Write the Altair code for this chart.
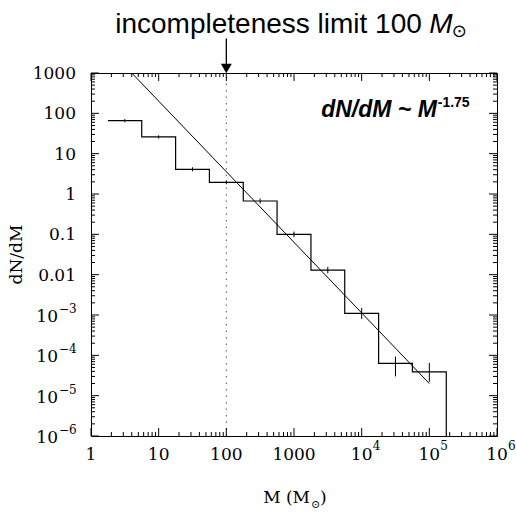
import altair as alt
import pandas as pd

# ---------------- data ----------------
bin_edges = [1.78, 5.62, 17.8, 56.2, 178, 562, 1780, 5620, 17800, 56200, 178000]
bin_levels = [66, 26, 4.1, 1.95, 0.67, 0.10, 0.013, 0.0011, 6.3e-5, 3.9e-5]
floor_level = 1e-6
bin_centers = [3.16, 10, 31.6, 100, 316, 1000, 3160, 10000, 31600, 100000]
err_low = [60.0, 23.7, 3.65, 1.74, 0.58, 0.085, 0.0108, 0.0008, 3.0e-5, 2.2e-5]
err_high = [72.4, 28.5, 4.6, 2.19, 0.77, 0.117, 0.0156, 0.0015, 9.3e-5, 6.5e-5]

fit_x = [4.0, 1.0e5]
fit_y = [1000, 2.0e-5]

limit_x = [100]
limit_y = [1e-6, 1000]
arrow_y = [7200, 1300]

x_plain_vals = [1, 10, 100, 1000]
x_plain_text = ["1", "10", "100", "1000"]
x_exp_vals = [1e4, 1e5, 1e6]
x_exp_text = ["4", "5", "6"]
y_plain_vals = [1000, 100, 10, 1, 0.1, 0.01]
y_plain_text = ["1000", "100", "10", "1", "0.1", "0.01"]
y_exp_vals = [1e-3, 1e-4, 1e-5, 1e-6]
y_exp_text = ["\u22123", "\u22124", "\u22125", "\u22126"]

x_major = [1, 10, 100, 1000, 1e4, 1e5, 1e6]
x_minor = [k * 10 ** d for d in range(0, 6) for k in range(2, 10)]
y_major = [10.0 ** d for d in range(-6, 4)]
y_minor = [k * 10.0 ** d for d in range(-6, 3) for k in range(2, 10)]

top_text = ["incompleteness limit 100"]
law_text = ["dN/dM ~ M"]
law_exp = ["-1.75"]

# ---------------- chart ----------------
W, H = 406, 363
xs = alt.Scale(type="log", domain=[1, 1e6], nice=False)
ys = alt.Scale(type="log", domain=[1e-6, 1000], nice=False)
SERIF = "DejaVu Serif"
SANS = "Liberation Sans"

hist = alt.Chart(pd.DataFrame({"m": bin_edges, "n": bin_levels + [floor_level]})).mark_line(
    interpolate="step-after", color="black", strokeWidth=1.2
).encode(x=alt.X("m:Q", scale=xs, axis=None), y=alt.Y("n:Q", scale=ys, axis=None))

errs = alt.Chart(pd.DataFrame({"m": bin_centers, "lo": err_low, "hi": err_high})).mark_rule(
    color="black", strokeWidth=1
).encode(x=alt.X("m:Q", scale=xs, axis=None), y=alt.Y("lo:Q", scale=ys, axis=None), y2="hi:Q")

fit = alt.Chart(pd.DataFrame({"m": fit_x, "n": fit_y})).mark_line(color="black", strokeWidth=1).encode(
    x=alt.X("m:Q", scale=xs, axis=None), y=alt.Y("n:Q", scale=ys, axis=None))

limit = alt.Chart(pd.DataFrame({"m": limit_x, "lo": [limit_y[0]], "hi": [limit_y[1]]})).mark_rule(
    color="#555555", strokeWidth=1, strokeDash=[1.5, 5]
).encode(x=alt.X("m:Q", scale=xs, axis=None), y=alt.Y("lo:Q", scale=ys, axis=None), y2="hi:Q")

arrow_line = alt.Chart(pd.DataFrame({"m": limit_x, "lo": [arrow_y[0]], "hi": [arrow_y[1]]})).mark_rule(
    color="black", strokeWidth=1.3
).encode(x=alt.X("m:Q", scale=xs, axis=None), y=alt.Y("lo:Q", scale=ys, axis=None), y2="hi:Q")

arrow_head = alt.Chart(pd.DataFrame({"m": limit_x, "n": [arrow_y[1]]})).mark_point(
    shape="triangle-down", filled=True, color="black", size=120, opacity=1
).encode(x=alt.X("m:Q", scale=xs, axis=None), y=alt.Y("n:Q", scale=ys, axis=None))


def tick_layer(vals, length, side):
    base = alt.Chart(pd.DataFrame({"v": vals})).mark_rule(color="black", strokeWidth=1)
    if side == "bottom":
        return base.encode(x=alt.X("v:Q", scale=xs, axis=None), y=alt.value(H), y2=alt.value(H - length))
    if side == "top":
        return base.encode(x=alt.X("v:Q", scale=xs, axis=None), y=alt.value(0), y2=alt.value(length))
    if side == "left":
        return base.encode(y=alt.Y("v:Q", scale=ys, axis=None), x=alt.value(0), x2=alt.value(length))
    return base.encode(y=alt.Y("v:Q", scale=ys, axis=None), x=alt.value(W), x2=alt.value(W - length))


ticks = []
for side in ["bottom", "top"]:
    ticks.append(tick_layer(x_major, 8, side))
    ticks.append(tick_layer(x_minor, 4, side))
for side in ["left", "right"]:
    ticks.append(tick_layer(y_major, 8, side))
    ticks.append(tick_layer(y_minor, 4, side))

# axis labels
xl_plain = alt.Chart(pd.DataFrame({"v": x_plain_vals, "t": x_plain_text})).mark_text(
    font=SERIF, fontSize=17, align="center", baseline="alphabetic", color="black"
).encode(x=alt.X("v:Q", scale=xs, axis=None), y=alt.value(H + 24), text="t:N")
xl_base = alt.Chart(pd.DataFrame({"v": x_exp_vals, "t": ["10"] * 3})).mark_text(
    font=SERIF, fontSize=17, align="center", baseline="alphabetic", color="black"
).encode(x=alt.X("v:Q", scale=xs, axis=None), y=alt.value(H + 24), text="t:N")
xl_exp = alt.Chart(pd.DataFrame({"v": x_exp_vals, "t": x_exp_text})).mark_text(
    font=SERIF, fontSize=12, align="left", baseline="alphabetic", dx=11, color="black"
).encode(x=alt.X("v:Q", scale=xs, axis=None), y=alt.value(H + 14), text="t:N")

yl_plain = alt.Chart(pd.DataFrame({"v": y_plain_vals, "t": y_plain_text})).mark_text(
    font=SERIF, fontSize=17, align="right", baseline="alphabetic", dy=6, color="black"
).encode(y=alt.Y("v:Q", scale=ys, axis=None), x=alt.value(-15), text="t:N")
yl_base = alt.Chart(pd.DataFrame({"v": y_exp_vals, "t": ["10"] * 4})).mark_text(
    font=SERIF, fontSize=17, align="right", baseline="alphabetic", dy=7, color="black"
).encode(y=alt.Y("v:Q", scale=ys, axis=None), x=alt.value(-33), text="t:N")
yl_exp = alt.Chart(pd.DataFrame({"v": y_exp_vals, "t": y_exp_text})).mark_text(
    font=SERIF, fontSize=12, align="left", baseline="alphabetic", dy=-2, color="black"
).encode(y=alt.Y("v:Q", scale=ys, axis=None), x=alt.value(-32), text="t:N")

# axis titles
ytitle = alt.Chart(pd.DataFrame({"t": ["dN/dM"]})).mark_text(
    font=SERIF, fontSize=17, angle=270, align="center", baseline="middle", color="black"
).encode(x=alt.value(-74), y=alt.value(H / 2), text="t:N")
xtitle1 = alt.Chart(pd.DataFrame({"t": ["M  (M"]})).mark_text(
    font=SERIF, fontSize=17, align="right", baseline="alphabetic", color="black"
).encode(x=alt.value(219), y=alt.value(H + 67), text="t:N")
xtitle2 = alt.Chart(pd.DataFrame({"t": ["\u2299"]})).mark_text(
    font=SERIF, fontSize=11, align="left", baseline="alphabetic", color="black"
).encode(x=alt.value(220), y=alt.value(H + 72), text="t:N")
xtitle3 = alt.Chart(pd.DataFrame({"t": [")"]})).mark_text(
    font=SERIF, fontSize=17, align="left", baseline="alphabetic", color="black"
).encode(x=alt.value(229), y=alt.value(H + 67), text="t:N")

# annotations (data coordinates)
top1 = alt.Chart(pd.DataFrame({"m": [7.75e4], "n": [1.0e4], "t": top_text})).mark_text(
    font=SANS, fontSize=28, align="right", baseline="alphabetic", color="black"
).encode(x=alt.X("m:Q", scale=xs, axis=None), y=alt.Y("n:Q", scale=ys, axis=None), text="t:N")
top2 = alt.Chart(pd.DataFrame({"m": [1.0e5], "n": [1.0e4], "t": ["M"]})).mark_text(
    font=SANS, fontSize=28, fontStyle="italic", align="left", baseline="alphabetic", color="black"
).encode(x=alt.X("m:Q", scale=xs, axis=None), y=alt.Y("n:Q", scale=ys, axis=None), text="t:N")
top3 = alt.Chart(pd.DataFrame({"m": [2.15e5], "n": [7.6e3], "t": ["\u2299"]})).mark_text(
    font="DejaVu Sans", fontSize=18, align="left", baseline="alphabetic", color="black"
).encode(x=alt.X("m:Q", scale=xs, axis=None), y=alt.Y("n:Q", scale=ys, axis=None), text="t:N")

law1 = alt.Chart(pd.DataFrame({"m": [1.29e5], "n": [80], "t": law_text})).mark_text(
    font=SANS, fontSize=23, fontStyle="italic", fontWeight="bold", align="right",
    baseline="alphabetic", color="black"
).encode(x=alt.X("m:Q", scale=xs, axis=None), y=alt.Y("n:Q", scale=ys, axis=None), text="t:N")
law2 = alt.Chart(pd.DataFrame({"m": [1.33e5], "n": [142], "t": law_exp})).mark_text(
    font=SANS, fontSize=14, fontWeight="bold", align="left", baseline="alphabetic", color="black"
).encode(x=alt.X("m:Q", scale=xs, axis=None), y=alt.Y("n:Q", scale=ys, axis=None), text="t:N")

chart = alt.layer(
    limit, hist, errs, fit, arrow_line, arrow_head, *ticks,
    xl_plain, xl_base, xl_exp, yl_plain, yl_base, yl_exp,
    ytitle, xtitle1, xtitle2, xtitle3, top1, top2, top3, law1, law2
).properties(
    width=W, height=H,
    autosize=alt.AutoSizeParams(type="none"),
    padding={"left": 91, "top": 73, "right": 19, "bottom": 76},
    background="white",
).configure_view(stroke="black", strokeWidth=1)

chart.save("out.html", embed_options={"renderer": "svg", "actions": False})
